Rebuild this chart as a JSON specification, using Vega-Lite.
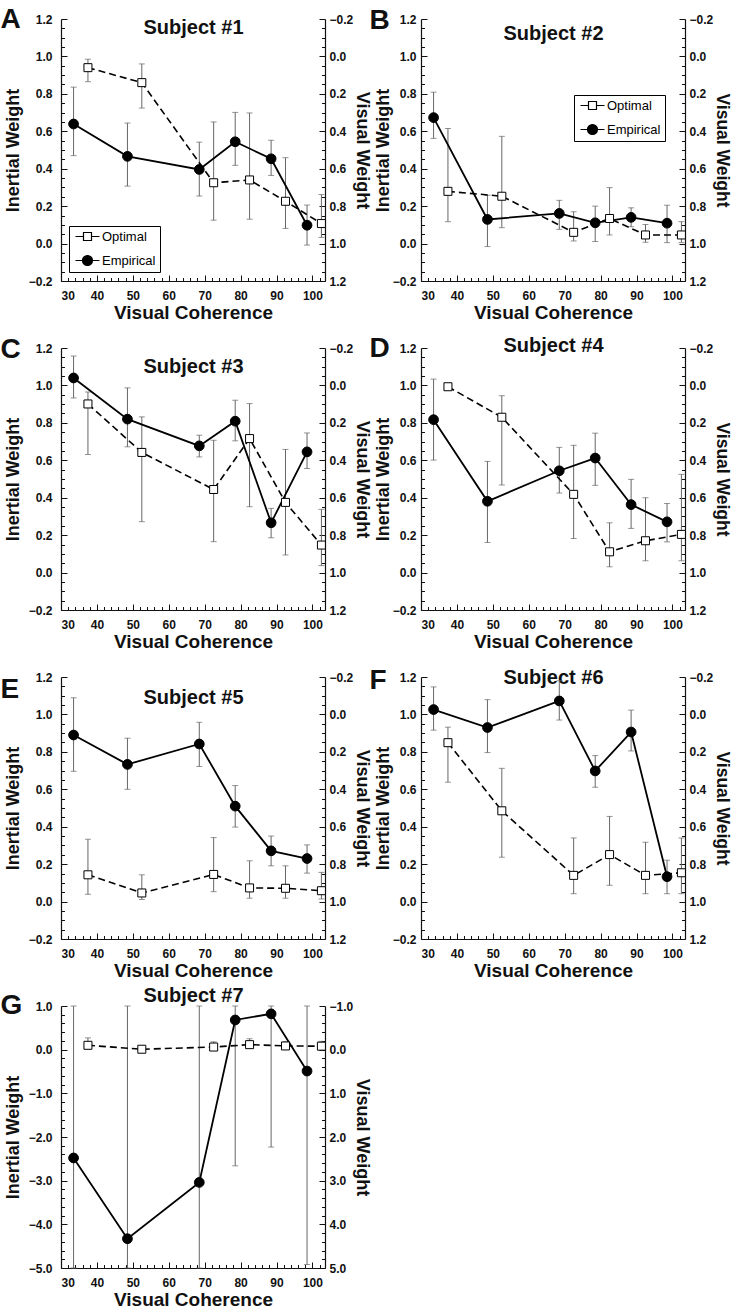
{
"$schema":"https://vega.github.io/schema/vega-lite/v6.json",
"padding":{"left":0,"top":5,"right":0,"bottom":0},
"datasets":{"d":[
{"p":"A","s":"Optimal","x":37.5,"y":0.94,"lo":0.865,"hi":0.985},
{"p":"A","s":"Optimal","x":52.5,"y":0.86,"lo":0.724,"hi":0.96},
{"p":"A","s":"Optimal","x":72.5,"y":0.325,"lo":0.125,"hi":0.65},
{"p":"A","s":"Optimal","x":82.5,"y":0.34,"lo":0.13,"hi":0.698},
{"p":"A","s":"Optimal","x":92.5,"y":0.226,"lo":0.081,"hi":0.459},
{"p":"A","s":"Optimal","x":102.5,"y":0.107,"lo":0.033,"hi":0.262},
{"p":"A","s":"Empirical","x":33.5,"y":0.639,"lo":0.47,"hi":0.836},
{"p":"A","s":"Empirical","x":48.5,"y":0.466,"lo":0.307,"hi":0.644},
{"p":"A","s":"Empirical","x":68.5,"y":0.396,"lo":0.254,"hi":0.542},
{"p":"A","s":"Empirical","x":78.5,"y":0.544,"lo":0.418,"hi":0.701},
{"p":"A","s":"Empirical","x":88.5,"y":0.453,"lo":0.364,"hi":0.552},
{"p":"A","s":"Empirical","x":98.5,"y":0.098,"lo":-0.008,"hi":0.206},
{"p":"B","s":"Optimal","x":37.5,"y":0.279,"lo":0.117,"hi":0.615},
{"p":"B","s":"Optimal","x":52.5,"y":0.253,"lo":0.085,"hi":0.573},
{"p":"B","s":"Optimal","x":72.5,"y":0.06,"lo":0.014,"hi":0.17},
{"p":"B","s":"Optimal","x":82.5,"y":0.134,"lo":0.046,"hi":0.299},
{"p":"B","s":"Optimal","x":92.5,"y":0.046,"lo":0.007,"hi":0.102},
{"p":"B","s":"Optimal","x":102.5,"y":0.046,"lo":0.005,"hi":0.117},
{"p":"B","s":"Empirical","x":33.5,"y":0.673,"lo":0.562,"hi":0.809},
{"p":"B","s":"Empirical","x":48.5,"y":0.129,"lo":-0.016,"hi":0.258},
{"p":"B","s":"Empirical","x":68.5,"y":0.161,"lo":0.076,"hi":0.231},
{"p":"B","s":"Empirical","x":78.5,"y":0.111,"lo":0.011,"hi":0.2},
{"p":"B","s":"Empirical","x":88.5,"y":0.14,"lo":0.09,"hi":0.191},
{"p":"B","s":"Empirical","x":98.5,"y":0.109,"lo":0.005,"hi":0.205},
{"p":"C","s":"Optimal","x":37.5,"y":0.901,"lo":0.631,"hi":0.965},
{"p":"C","s":"Optimal","x":52.5,"y":0.642,"lo":0.272,"hi":0.832},
{"p":"C","s":"Optimal","x":72.5,"y":0.444,"lo":0.165,"hi":0.707},
{"p":"C","s":"Optimal","x":82.5,"y":0.716,"lo":0.352,"hi":0.903},
{"p":"C","s":"Optimal","x":92.5,"y":0.375,"lo":0.094,"hi":0.658},
{"p":"C","s":"Optimal","x":102.5,"y":0.147,"lo":0.037,"hi":0.338},
{"p":"C","s":"Empirical","x":33.5,"y":1.04,"lo":0.933,"hi":1.157},
{"p":"C","s":"Empirical","x":48.5,"y":0.82,"lo":0.672,"hi":0.987},
{"p":"C","s":"Empirical","x":68.5,"y":0.677,"lo":0.618,"hi":0.734},
{"p":"C","s":"Empirical","x":78.5,"y":0.809,"lo":0.704,"hi":0.921},
{"p":"C","s":"Empirical","x":88.5,"y":0.266,"lo":0.186,"hi":0.343},
{"p":"C","s":"Empirical","x":98.5,"y":0.645,"lo":0.556,"hi":0.746},
{"p":"D","s":"Optimal","x":37.5,"y":0.993,"lo":0.98,"hi":1.005},
{"p":"D","s":"Optimal","x":52.5,"y":0.83,"lo":0.468,"hi":0.945},
{"p":"D","s":"Optimal","x":72.5,"y":0.418,"lo":0.182,"hi":0.68},
{"p":"D","s":"Optimal","x":82.5,"y":0.111,"lo":0.031,"hi":0.266},
{"p":"D","s":"Optimal","x":92.5,"y":0.17,"lo":0.063,"hi":0.4},
{"p":"D","s":"Optimal","x":102.5,"y":0.204,"lo":0.063,"hi":0.525},
{"p":"D","s":"Empirical","x":33.5,"y":0.817,"lo":0.601,"hi":1.034},
{"p":"D","s":"Empirical","x":48.5,"y":0.381,"lo":0.161,"hi":0.594},
{"p":"D","s":"Empirical","x":68.5,"y":0.544,"lo":0.425,"hi":0.669},
{"p":"D","s":"Empirical","x":78.5,"y":0.612,"lo":0.466,"hi":0.745},
{"p":"D","s":"Empirical","x":88.5,"y":0.363,"lo":0.236,"hi":0.498},
{"p":"D","s":"Empirical","x":98.5,"y":0.271,"lo":0.164,"hi":0.369},
{"p":"E","s":"Optimal","x":37.5,"y":0.143,"lo":0.039,"hi":0.333},
{"p":"E","s":"Optimal","x":52.5,"y":0.046,"lo":0.011,"hi":0.143},
{"p":"E","s":"Optimal","x":72.5,"y":0.145,"lo":0.053,"hi":0.342},
{"p":"E","s":"Optimal","x":82.5,"y":0.073,"lo":0.018,"hi":0.218},
{"p":"E","s":"Optimal","x":92.5,"y":0.071,"lo":0.018,"hi":0.191},
{"p":"E","s":"Optimal","x":102.5,"y":0.058,"lo":0.014,"hi":0.156},
{"p":"E","s":"Empirical","x":33.5,"y":0.89,"lo":0.696,"hi":1.089},
{"p":"E","s":"Empirical","x":48.5,"y":0.733,"lo":0.6,"hi":0.873},
{"p":"E","s":"Empirical","x":68.5,"y":0.842,"lo":0.722,"hi":0.958},
{"p":"E","s":"Empirical","x":78.5,"y":0.51,"lo":0.398,"hi":0.62},
{"p":"E","s":"Empirical","x":88.5,"y":0.271,"lo":0.191,"hi":0.35},
{"p":"E","s":"Empirical","x":98.5,"y":0.23,"lo":0.152,"hi":0.303},
{"p":"F","s":"Optimal","x":37.5,"y":0.849,"lo":0.638,"hi":0.932},
{"p":"F","s":"Optimal","x":52.5,"y":0.485,"lo":0.237,"hi":0.712},
{"p":"F","s":"Optimal","x":72.5,"y":0.14,"lo":0.042,"hi":0.34},
{"p":"F","s":"Optimal","x":82.5,"y":0.251,"lo":0.087,"hi":0.455},
{"p":"F","s":"Optimal","x":92.5,"y":0.14,"lo":0.042,"hi":0.317},
{"p":"F","s":"Optimal","x":102.5,"y":0.154,"lo":0.042,"hi":0.34},
{"p":"F","s":"Empirical","x":33.5,"y":1.026,"lo":0.916,"hi":1.147},
{"p":"F","s":"Empirical","x":48.5,"y":0.93,"lo":0.796,"hi":1.079},
{"p":"F","s":"Empirical","x":68.5,"y":1.072,"lo":0.97,"hi":1.18},
{"p":"F","s":"Empirical","x":78.5,"y":0.698,"lo":0.611,"hi":0.78},
{"p":"F","s":"Empirical","x":88.5,"y":0.906,"lo":0.805,"hi":1.023},
{"p":"F","s":"Empirical","x":98.5,"y":0.133,"lo":0.042,"hi":0.221},
{"p":"G","s":"Optimal","x":37.5,"y":0.1,"lo":0.05,"hi":0.27},
{"p":"G","s":"Optimal","x":52.5,"y":0.01,"lo":-0.02,"hi":0.04},
{"p":"G","s":"Optimal","x":72.5,"y":0.06,"lo":0.02,"hi":0.18},
{"p":"G","s":"Optimal","x":82.5,"y":0.115,"lo":0.06,"hi":0.25},
{"p":"G","s":"Optimal","x":92.5,"y":0.085,"lo":0.03,"hi":0.18},
{"p":"G","s":"Optimal","x":102.5,"y":0.08,"lo":0.03,"hi":0.19},
{"p":"G","s":"Empirical","x":33.5,"y":-2.48,"lo":-5,"hi":1},
{"p":"G","s":"Empirical","x":48.5,"y":-4.33,"lo":-5,"hi":1},
{"p":"G","s":"Empirical","x":68.5,"y":-3.04,"lo":-5,"hi":1},
{"p":"G","s":"Empirical","x":78.5,"y":0.68,"lo":-2.66,"hi":1},
{"p":"G","s":"Empirical","x":88.5,"y":0.82,"lo":-2.23,"hi":1},
{"p":"G","s":"Empirical","x":98.5,"y":-0.49,"lo":-4.92,"hi":1}
]},
"columns":2,
"bounds":"flush",
"spacing":{"row":67,"column":96},
"resolve":{"scale":{"x":"independent","y":"independent"},"legend":{"shape":"independent","fill":"independent","stroke":"independent"}},
"concat":[
{"width":264,"height":262,"data":{"name":"d"},"transform":[{"filter":"datum.p==='A'"}],
"layer":[
{"mark":{"type":"errorbar","ticks":{"size":6,"color":"#666"},"rule":{"color":"#666","strokeWidth":1}},
"encoding":{"x":{"field":"x","type":"quantitative","scale":{"domain":[30,103.5],"nice":false,"zero":false},"axis":null},"y":{"field":"lo","type":"quantitative","scale":{"domain":[-0.2,1.2],"nice":false,"zero":false},"axis":null},"y2":{"field":"hi"}}},
{"transform":[{"filter":"datum.s==='Optimal'"}],"mark":{"type":"line","color":"black","strokeWidth":1.6,"strokeDash":[7,4]},
"encoding":{"x":{"field":"x","type":"quantitative","scale":{"domain":[30,103.5],"nice":false,"zero":false},"axis":{"orient":"bottom","values":[30,40,50,60,70,80,90,100],"format":"d","title":"Visual Coherence","tickSize":-6,"labelPadding":15,"titlePadding":2}},"y":{"field":"y","type":"quantitative","scale":{"domain":[-0.2,1.2],"nice":false,"zero":false},"axis":{"orient":"left","values":[-0.2,0,0.2,0.4,0.6,0.8,1,1.2],"format":".1f","title":"Inertial Weight","tickSize":-6,"labelPadding":15,"titlePadding":6,"titleFontSize":18}}}},
{"transform":[{"filter":"datum.s==='Empirical'"}],"mark":{"type":"line","color":"black","strokeWidth":1.8},
"encoding":{"x":{"field":"x","type":"quantitative","scale":{"domain":[30,103.5],"nice":false,"zero":false},"axis":{"orient":"bottom","values":[32,34,36,38,42,44,46,48,52,54,56,58,62,64,66,68,72,74,76,78,82,84,86,88,92,94,96,98,102],"labels":false,"title":null,"domain":false,"tickSize":-3.5}},"y":{"field":"y","type":"quantitative","scale":{"domain":[-0.2,1.2],"nice":false,"zero":false},"axis":{"orient":"left","values":[-0.15,-0.1,-0.05,0.05,0.1,0.15,0.25,0.3,0.35,0.45,0.5,0.55,0.65,0.7,0.75,0.85,0.9,0.95,1.05,1.1,1.15],"labels":false,"title":null,"domain":false,"tickSize":-3.5}}}},
{"transform":[{"filter":"datum.s==='Optimal'"}],"mark":{"type":"point","shape":"square","size":64,"filled":true,"color":"white","opacity":1,"stroke":"black","strokeWidth":1},
"encoding":{"x":{"field":"x","type":"quantitative","scale":{"domain":[30,103.5],"nice":false,"zero":false},"axis":{"orient":"top","domain":false,"ticks":false,"labels":false,"title":"Subject #1","titleY":14,"titleBaseline":"alphabetic","titleFontSize":20}},"y":{"field":"y","type":"quantitative","scale":{"domain":[-0.2,1.2],"nice":false,"zero":false},"axis":{"orient":"right","values":[-0.2,0,0.2,0.4,0.6,0.8,1,1.2],"labelExpr":"format(1 - datum.value, '.1f')","title":"Visual Weight","tickSize":-6,"labelPadding":10,"titlePadding":0,"titleFontSize":18}}}},
{"transform":[{"filter":"datum.s==='Empirical'"}],"mark":{"type":"point","shape":"circle","size":95,"filled":true,"color":"black","opacity":1,"stroke":"black","strokeWidth":1},
"encoding":{"x":{"field":"x","type":"quantitative","scale":{"domain":[30,103.5],"nice":false,"zero":false},"axis":{"orient":"top","domain":false,"ticks":false,"labels":false,"title":"A","titleX":-61,"titleY":8,"titleAlign":"left","titleAnchor":"start","titleBaseline":"alphabetic","titleFontSize":28}},"y":{"field":"y","type":"quantitative","scale":{"domain":[-0.2,1.2],"nice":false,"zero":false},"axis":{"orient":"right","values":[-0.15,-0.1,-0.05,0.05,0.1,0.15,0.25,0.3,0.35,0.45,0.5,0.55,0.65,0.7,0.75,0.85,0.9,0.95,1.05,1.1,1.15],"labels":false,"title":null,"domain":false,"tickSize":-3.5}}}},
{"mark":{"type":"point","size":100,"filled":true,"opacity":0,"strokeWidth":1.2},
"encoding":{"x":{"field":"x","type":"quantitative","scale":{"domain":[30,103.5],"nice":false,"zero":false},"axis":null},"y":{"field":"y","type":"quantitative","scale":{"domain":[-0.2,1.2],"nice":false,"zero":false},"axis":null},
"shape":{"field":"s","type":"nominal","scale":{"domain":["Optimal","Empirical"],"range":["M-2.4,0H-0.8M0.8,0H2.4M-0.8,-0.8H0.8V0.8H-0.8Z","M-2.4,0H2.4M1,0A1,1,0,1,1,-1,0A1,1,0,1,1,1,0Z"]},"legend":{"orient":"none","legendX":8,"legendY":207,"title":null,"fillColor":"white","strokeColor":"black","padding":4,"symbolOffset":8,"labelOffset":8,"rowPadding":9,"labelFont":"Liberation Sans","labelFontSize":13,"labelFontWeight":"normal","labelColor":"black","symbolSize":100,"symbolStrokeWidth":1.2,"symbolOpacity":1}},
"fill":{"field":"s","type":"nominal","scale":{"domain":["Optimal","Empirical"],"range":["white","black"]},"legend":{"orient":"none","legendX":8,"legendY":207,"title":null,"fillColor":"white","strokeColor":"black","padding":4,"symbolOffset":8,"labelOffset":8,"rowPadding":9,"labelFont":"Liberation Sans","labelFontSize":13,"labelFontWeight":"normal","labelColor":"black","symbolSize":100,"symbolStrokeWidth":1.2,"symbolOpacity":1}},
"stroke":{"field":"s","type":"nominal","scale":{"domain":["Optimal","Empirical"],"range":["black","black"]},"legend":{"orient":"none","legendX":8,"legendY":207,"title":null,"fillColor":"white","strokeColor":"black","padding":4,"symbolOffset":8,"labelOffset":8,"rowPadding":9,"labelFont":"Liberation Sans","labelFontSize":13,"labelFontWeight":"normal","labelColor":"black","symbolSize":100,"symbolStrokeWidth":1.2,"symbolOpacity":1}}}}
],
"resolve":{"axis":{"x":"independent","y":"independent"}}},
{"width":264,"height":262,"data":{"name":"d"},"transform":[{"filter":"datum.p==='B'"}],
"layer":[
{"mark":{"type":"errorbar","ticks":{"size":6,"color":"#666"},"rule":{"color":"#666","strokeWidth":1}},
"encoding":{"x":{"field":"x","type":"quantitative","scale":{"domain":[30,103.5],"nice":false,"zero":false},"axis":null},"y":{"field":"lo","type":"quantitative","scale":{"domain":[-0.2,1.2],"nice":false,"zero":false},"axis":null},"y2":{"field":"hi"}}},
{"transform":[{"filter":"datum.s==='Optimal'"}],"mark":{"type":"line","color":"black","strokeWidth":1.6,"strokeDash":[7,4]},
"encoding":{"x":{"field":"x","type":"quantitative","scale":{"domain":[30,103.5],"nice":false,"zero":false},"axis":{"orient":"bottom","values":[30,40,50,60,70,80,90,100],"format":"d","title":"Visual Coherence","tickSize":-6,"labelPadding":15,"titlePadding":2}},"y":{"field":"y","type":"quantitative","scale":{"domain":[-0.2,1.2],"nice":false,"zero":false},"axis":{"orient":"left","values":[-0.2,0,0.2,0.4,0.6,0.8,1,1.2],"format":".1f","title":"Inertial Weight","tickSize":-6,"labelPadding":11,"titlePadding":0,"titleFontSize":18}}}},
{"transform":[{"filter":"datum.s==='Empirical'"}],"mark":{"type":"line","color":"black","strokeWidth":1.8},
"encoding":{"x":{"field":"x","type":"quantitative","scale":{"domain":[30,103.5],"nice":false,"zero":false},"axis":{"orient":"bottom","values":[32,34,36,38,42,44,46,48,52,54,56,58,62,64,66,68,72,74,76,78,82,84,86,88,92,94,96,98,102],"labels":false,"title":null,"domain":false,"tickSize":-3.5}},"y":{"field":"y","type":"quantitative","scale":{"domain":[-0.2,1.2],"nice":false,"zero":false},"axis":{"orient":"left","values":[-0.15,-0.1,-0.05,0.05,0.1,0.15,0.25,0.3,0.35,0.45,0.5,0.55,0.65,0.7,0.75,0.85,0.9,0.95,1.05,1.1,1.15],"labels":false,"title":null,"domain":false,"tickSize":-3.5}}}},
{"transform":[{"filter":"datum.s==='Optimal'"}],"mark":{"type":"point","shape":"square","size":64,"filled":true,"color":"white","opacity":1,"stroke":"black","strokeWidth":1},
"encoding":{"x":{"field":"x","type":"quantitative","scale":{"domain":[30,103.5],"nice":false,"zero":false},"axis":{"orient":"top","domain":false,"ticks":false,"labels":false,"title":"Subject #2","titleY":20,"titleBaseline":"alphabetic","titleFontSize":20}},"y":{"field":"y","type":"quantitative","scale":{"domain":[-0.2,1.2],"nice":false,"zero":false},"axis":{"orient":"right","values":[-0.2,0,0.2,0.4,0.6,0.8,1,1.2],"labelExpr":"format(1 - datum.value, '.1f')","title":"Visual Weight","tickSize":-6,"labelPadding":10,"titlePadding":0,"titleFontSize":17.5}}}},
{"transform":[{"filter":"datum.s==='Empirical'"}],"mark":{"type":"point","shape":"circle","size":95,"filled":true,"color":"black","opacity":1,"stroke":"black","strokeWidth":1},
"encoding":{"x":{"field":"x","type":"quantitative","scale":{"domain":[30,103.5],"nice":false,"zero":false},"axis":{"orient":"top","domain":false,"ticks":false,"labels":false,"title":"B","titleX":-52,"titleY":9,"titleAlign":"left","titleAnchor":"start","titleBaseline":"alphabetic","titleFontSize":28}},"y":{"field":"y","type":"quantitative","scale":{"domain":[-0.2,1.2],"nice":false,"zero":false},"axis":{"orient":"right","values":[-0.15,-0.1,-0.05,0.05,0.1,0.15,0.25,0.3,0.35,0.45,0.5,0.55,0.65,0.7,0.75,0.85,0.9,0.95,1.05,1.1,1.15],"labels":false,"title":null,"domain":false,"tickSize":-3.5}}}},
{"mark":{"type":"point","size":100,"filled":true,"opacity":0,"strokeWidth":1.2},
"encoding":{"x":{"field":"x","type":"quantitative","scale":{"domain":[30,103.5],"nice":false,"zero":false},"axis":null},"y":{"field":"y","type":"quantitative","scale":{"domain":[-0.2,1.2],"nice":false,"zero":false},"axis":null},
"shape":{"field":"s","type":"nominal","scale":{"domain":["Optimal","Empirical"],"range":["M-2.4,0H-0.8M0.8,0H2.4M-0.8,-0.8H0.8V0.8H-0.8Z","M-2.4,0H2.4M1,0A1,1,0,1,1,-1,0A1,1,0,1,1,1,0Z"]},"legend":{"orient":"none","legendX":153,"legendY":76,"title":null,"fillColor":"white","strokeColor":"black","padding":4,"symbolOffset":8,"labelOffset":8,"rowPadding":9,"labelFont":"Liberation Sans","labelFontSize":13,"labelFontWeight":"normal","labelColor":"black","symbolSize":100,"symbolStrokeWidth":1.2,"symbolOpacity":1}},
"fill":{"field":"s","type":"nominal","scale":{"domain":["Optimal","Empirical"],"range":["white","black"]},"legend":{"orient":"none","legendX":153,"legendY":76,"title":null,"fillColor":"white","strokeColor":"black","padding":4,"symbolOffset":8,"labelOffset":8,"rowPadding":9,"labelFont":"Liberation Sans","labelFontSize":13,"labelFontWeight":"normal","labelColor":"black","symbolSize":100,"symbolStrokeWidth":1.2,"symbolOpacity":1}},
"stroke":{"field":"s","type":"nominal","scale":{"domain":["Optimal","Empirical"],"range":["black","black"]},"legend":{"orient":"none","legendX":153,"legendY":76,"title":null,"fillColor":"white","strokeColor":"black","padding":4,"symbolOffset":8,"labelOffset":8,"rowPadding":9,"labelFont":"Liberation Sans","labelFontSize":13,"labelFontWeight":"normal","labelColor":"black","symbolSize":100,"symbolStrokeWidth":1.2,"symbolOpacity":1}}}}
],
"resolve":{"axis":{"x":"independent","y":"independent"}}},
{"width":264,"height":262,"data":{"name":"d"},"transform":[{"filter":"datum.p==='C'"}],
"layer":[
{"mark":{"type":"errorbar","ticks":{"size":6,"color":"#666"},"rule":{"color":"#666","strokeWidth":1}},
"encoding":{"x":{"field":"x","type":"quantitative","scale":{"domain":[30,103.5],"nice":false,"zero":false},"axis":null},"y":{"field":"lo","type":"quantitative","scale":{"domain":[-0.2,1.2],"nice":false,"zero":false},"axis":null},"y2":{"field":"hi"}}},
{"transform":[{"filter":"datum.s==='Optimal'"}],"mark":{"type":"line","color":"black","strokeWidth":1.6,"strokeDash":[7,4]},
"encoding":{"x":{"field":"x","type":"quantitative","scale":{"domain":[30,103.5],"nice":false,"zero":false},"axis":{"orient":"bottom","values":[30,40,50,60,70,80,90,100],"format":"d","title":"Visual Coherence","tickSize":-6,"labelPadding":15,"titlePadding":2}},"y":{"field":"y","type":"quantitative","scale":{"domain":[-0.2,1.2],"nice":false,"zero":false},"axis":{"orient":"left","values":[-0.2,0,0.2,0.4,0.6,0.8,1,1.2],"format":".1f","title":"Inertial Weight","tickSize":-6,"labelPadding":15,"titlePadding":6,"titleFontSize":18}}}},
{"transform":[{"filter":"datum.s==='Empirical'"}],"mark":{"type":"line","color":"black","strokeWidth":1.8},
"encoding":{"x":{"field":"x","type":"quantitative","scale":{"domain":[30,103.5],"nice":false,"zero":false},"axis":{"orient":"bottom","values":[32,34,36,38,42,44,46,48,52,54,56,58,62,64,66,68,72,74,76,78,82,84,86,88,92,94,96,98,102],"labels":false,"title":null,"domain":false,"tickSize":-3.5}},"y":{"field":"y","type":"quantitative","scale":{"domain":[-0.2,1.2],"nice":false,"zero":false},"axis":{"orient":"left","values":[-0.15,-0.1,-0.05,0.05,0.1,0.15,0.25,0.3,0.35,0.45,0.5,0.55,0.65,0.7,0.75,0.85,0.9,0.95,1.05,1.1,1.15],"labels":false,"title":null,"domain":false,"tickSize":-3.5}}}},
{"transform":[{"filter":"datum.s==='Optimal'"}],"mark":{"type":"point","shape":"square","size":64,"filled":true,"color":"white","opacity":1,"stroke":"black","strokeWidth":1},
"encoding":{"x":{"field":"x","type":"quantitative","scale":{"domain":[30,103.5],"nice":false,"zero":false},"axis":{"orient":"top","domain":false,"ticks":false,"labels":false,"title":"Subject #3","titleY":24,"titleBaseline":"alphabetic","titleFontSize":20}},"y":{"field":"y","type":"quantitative","scale":{"domain":[-0.2,1.2],"nice":false,"zero":false},"axis":{"orient":"right","values":[-0.2,0,0.2,0.4,0.6,0.8,1,1.2],"labelExpr":"format(1 - datum.value, '.1f')","title":"Visual Weight","tickSize":-6,"labelPadding":10,"titlePadding":0,"titleFontSize":18}}}},
{"transform":[{"filter":"datum.s==='Empirical'"}],"mark":{"type":"point","shape":"circle","size":95,"filled":true,"color":"black","opacity":1,"stroke":"black","strokeWidth":1},
"encoding":{"x":{"field":"x","type":"quantitative","scale":{"domain":[30,103.5],"nice":false,"zero":false},"axis":{"orient":"top","domain":false,"ticks":false,"labels":false,"title":"C","titleX":-61,"titleY":9,"titleAlign":"left","titleAnchor":"start","titleBaseline":"alphabetic","titleFontSize":28}},"y":{"field":"y","type":"quantitative","scale":{"domain":[-0.2,1.2],"nice":false,"zero":false},"axis":{"orient":"right","values":[-0.15,-0.1,-0.05,0.05,0.1,0.15,0.25,0.3,0.35,0.45,0.5,0.55,0.65,0.7,0.75,0.85,0.9,0.95,1.05,1.1,1.15],"labels":false,"title":null,"domain":false,"tickSize":-3.5}}}}
],
"resolve":{"axis":{"x":"independent","y":"independent"}}},
{"width":264,"height":262,"data":{"name":"d"},"transform":[{"filter":"datum.p==='D'"}],
"layer":[
{"mark":{"type":"errorbar","ticks":{"size":6,"color":"#666"},"rule":{"color":"#666","strokeWidth":1}},
"encoding":{"x":{"field":"x","type":"quantitative","scale":{"domain":[30,103.5],"nice":false,"zero":false},"axis":null},"y":{"field":"lo","type":"quantitative","scale":{"domain":[-0.2,1.2],"nice":false,"zero":false},"axis":null},"y2":{"field":"hi"}}},
{"transform":[{"filter":"datum.s==='Optimal'"}],"mark":{"type":"line","color":"black","strokeWidth":1.6,"strokeDash":[7,4]},
"encoding":{"x":{"field":"x","type":"quantitative","scale":{"domain":[30,103.5],"nice":false,"zero":false},"axis":{"orient":"bottom","values":[30,40,50,60,70,80,90,100],"format":"d","title":"Visual Coherence","tickSize":-6,"labelPadding":15,"titlePadding":2}},"y":{"field":"y","type":"quantitative","scale":{"domain":[-0.2,1.2],"nice":false,"zero":false},"axis":{"orient":"left","values":[-0.2,0,0.2,0.4,0.6,0.8,1,1.2],"format":".1f","title":"Inertial Weight","tickSize":-6,"labelPadding":11,"titlePadding":0,"titleFontSize":18}}}},
{"transform":[{"filter":"datum.s==='Empirical'"}],"mark":{"type":"line","color":"black","strokeWidth":1.8},
"encoding":{"x":{"field":"x","type":"quantitative","scale":{"domain":[30,103.5],"nice":false,"zero":false},"axis":{"orient":"bottom","values":[32,34,36,38,42,44,46,48,52,54,56,58,62,64,66,68,72,74,76,78,82,84,86,88,92,94,96,98,102],"labels":false,"title":null,"domain":false,"tickSize":-3.5}},"y":{"field":"y","type":"quantitative","scale":{"domain":[-0.2,1.2],"nice":false,"zero":false},"axis":{"orient":"left","values":[-0.15,-0.1,-0.05,0.05,0.1,0.15,0.25,0.3,0.35,0.45,0.5,0.55,0.65,0.7,0.75,0.85,0.9,0.95,1.05,1.1,1.15],"labels":false,"title":null,"domain":false,"tickSize":-3.5}}}},
{"transform":[{"filter":"datum.s==='Optimal'"}],"mark":{"type":"point","shape":"square","size":64,"filled":true,"color":"white","opacity":1,"stroke":"black","strokeWidth":1},
"encoding":{"x":{"field":"x","type":"quantitative","scale":{"domain":[30,103.5],"nice":false,"zero":false},"axis":{"orient":"top","domain":false,"ticks":false,"labels":false,"title":"Subject #4","titleY":3,"titleBaseline":"alphabetic","titleFontSize":20}},"y":{"field":"y","type":"quantitative","scale":{"domain":[-0.2,1.2],"nice":false,"zero":false},"axis":{"orient":"right","values":[-0.2,0,0.2,0.4,0.6,0.8,1,1.2],"labelExpr":"format(1 - datum.value, '.1f')","title":"Visual Weight","tickSize":-6,"labelPadding":10,"titlePadding":0,"titleFontSize":17.5}}}},
{"transform":[{"filter":"datum.s==='Empirical'"}],"mark":{"type":"point","shape":"circle","size":95,"filled":true,"color":"black","opacity":1,"stroke":"black","strokeWidth":1},
"encoding":{"x":{"field":"x","type":"quantitative","scale":{"domain":[30,103.5],"nice":false,"zero":false},"axis":{"orient":"top","domain":false,"ticks":false,"labels":false,"title":"D","titleX":-52,"titleY":8,"titleAlign":"left","titleAnchor":"start","titleBaseline":"alphabetic","titleFontSize":28}},"y":{"field":"y","type":"quantitative","scale":{"domain":[-0.2,1.2],"nice":false,"zero":false},"axis":{"orient":"right","values":[-0.15,-0.1,-0.05,0.05,0.1,0.15,0.25,0.3,0.35,0.45,0.5,0.55,0.65,0.7,0.75,0.85,0.9,0.95,1.05,1.1,1.15],"labels":false,"title":null,"domain":false,"tickSize":-3.5}}}}
],
"resolve":{"axis":{"x":"independent","y":"independent"}}},
{"width":264,"height":262,"data":{"name":"d"},"transform":[{"filter":"datum.p==='E'"}],
"layer":[
{"mark":{"type":"errorbar","ticks":{"size":6,"color":"#666"},"rule":{"color":"#666","strokeWidth":1}},
"encoding":{"x":{"field":"x","type":"quantitative","scale":{"domain":[30,103.5],"nice":false,"zero":false},"axis":null},"y":{"field":"lo","type":"quantitative","scale":{"domain":[-0.2,1.2],"nice":false,"zero":false},"axis":null},"y2":{"field":"hi"}}},
{"transform":[{"filter":"datum.s==='Optimal'"}],"mark":{"type":"line","color":"black","strokeWidth":1.6,"strokeDash":[7,4]},
"encoding":{"x":{"field":"x","type":"quantitative","scale":{"domain":[30,103.5],"nice":false,"zero":false},"axis":{"orient":"bottom","values":[30,40,50,60,70,80,90,100],"format":"d","title":"Visual Coherence","tickSize":-6,"labelPadding":15,"titlePadding":2}},"y":{"field":"y","type":"quantitative","scale":{"domain":[-0.2,1.2],"nice":false,"zero":false},"axis":{"orient":"left","values":[-0.2,0,0.2,0.4,0.6,0.8,1,1.2],"format":".1f","title":"Inertial Weight","tickSize":-6,"labelPadding":15,"titlePadding":6,"titleFontSize":18}}}},
{"transform":[{"filter":"datum.s==='Empirical'"}],"mark":{"type":"line","color":"black","strokeWidth":1.8},
"encoding":{"x":{"field":"x","type":"quantitative","scale":{"domain":[30,103.5],"nice":false,"zero":false},"axis":{"orient":"bottom","values":[32,34,36,38,42,44,46,48,52,54,56,58,62,64,66,68,72,74,76,78,82,84,86,88,92,94,96,98,102],"labels":false,"title":null,"domain":false,"tickSize":-3.5}},"y":{"field":"y","type":"quantitative","scale":{"domain":[-0.2,1.2],"nice":false,"zero":false},"axis":{"orient":"left","values":[-0.15,-0.1,-0.05,0.05,0.1,0.15,0.25,0.3,0.35,0.45,0.5,0.55,0.65,0.7,0.75,0.85,0.9,0.95,1.05,1.1,1.15],"labels":false,"title":null,"domain":false,"tickSize":-3.5}}}},
{"transform":[{"filter":"datum.s==='Optimal'"}],"mark":{"type":"point","shape":"square","size":64,"filled":true,"color":"white","opacity":1,"stroke":"black","strokeWidth":1},
"encoding":{"x":{"field":"x","type":"quantitative","scale":{"domain":[30,103.5],"nice":false,"zero":false},"axis":{"orient":"top","domain":false,"ticks":false,"labels":false,"title":"Subject #5","titleY":26,"titleBaseline":"alphabetic","titleFontSize":20}},"y":{"field":"y","type":"quantitative","scale":{"domain":[-0.2,1.2],"nice":false,"zero":false},"axis":{"orient":"right","values":[-0.2,0,0.2,0.4,0.6,0.8,1,1.2],"labelExpr":"format(1 - datum.value, '.1f')","title":"Visual Weight","tickSize":-6,"labelPadding":10,"titlePadding":0,"titleFontSize":18}}}},
{"transform":[{"filter":"datum.s==='Empirical'"}],"mark":{"type":"point","shape":"circle","size":95,"filled":true,"color":"black","opacity":1,"stroke":"black","strokeWidth":1},
"encoding":{"x":{"field":"x","type":"quantitative","scale":{"domain":[30,103.5],"nice":false,"zero":false},"axis":{"orient":"top","domain":false,"ticks":false,"labels":false,"title":"E","titleX":-61,"titleY":20,"titleAlign":"left","titleAnchor":"start","titleBaseline":"alphabetic","titleFontSize":28}},"y":{"field":"y","type":"quantitative","scale":{"domain":[-0.2,1.2],"nice":false,"zero":false},"axis":{"orient":"right","values":[-0.15,-0.1,-0.05,0.05,0.1,0.15,0.25,0.3,0.35,0.45,0.5,0.55,0.65,0.7,0.75,0.85,0.9,0.95,1.05,1.1,1.15],"labels":false,"title":null,"domain":false,"tickSize":-3.5}}}}
],
"resolve":{"axis":{"x":"independent","y":"independent"}}},
{"width":264,"height":262,"data":{"name":"d"},"transform":[{"filter":"datum.p==='F'"}],
"layer":[
{"mark":{"type":"errorbar","ticks":{"size":6,"color":"#666"},"rule":{"color":"#666","strokeWidth":1}},
"encoding":{"x":{"field":"x","type":"quantitative","scale":{"domain":[30,103.5],"nice":false,"zero":false},"axis":null},"y":{"field":"lo","type":"quantitative","scale":{"domain":[-0.2,1.2],"nice":false,"zero":false},"axis":null},"y2":{"field":"hi"}}},
{"transform":[{"filter":"datum.s==='Optimal'"}],"mark":{"type":"line","color":"black","strokeWidth":1.6,"strokeDash":[7,4]},
"encoding":{"x":{"field":"x","type":"quantitative","scale":{"domain":[30,103.5],"nice":false,"zero":false},"axis":{"orient":"bottom","values":[30,40,50,60,70,80,90,100],"format":"d","title":"Visual Coherence","tickSize":-6,"labelPadding":15,"titlePadding":2}},"y":{"field":"y","type":"quantitative","scale":{"domain":[-0.2,1.2],"nice":false,"zero":false},"axis":{"orient":"left","values":[-0.2,0,0.2,0.4,0.6,0.8,1,1.2],"format":".1f","title":"Inertial Weight","tickSize":-6,"labelPadding":11,"titlePadding":0,"titleFontSize":18}}}},
{"transform":[{"filter":"datum.s==='Empirical'"}],"mark":{"type":"line","color":"black","strokeWidth":1.8},
"encoding":{"x":{"field":"x","type":"quantitative","scale":{"domain":[30,103.5],"nice":false,"zero":false},"axis":{"orient":"bottom","values":[32,34,36,38,42,44,46,48,52,54,56,58,62,64,66,68,72,74,76,78,82,84,86,88,92,94,96,98,102],"labels":false,"title":null,"domain":false,"tickSize":-3.5}},"y":{"field":"y","type":"quantitative","scale":{"domain":[-0.2,1.2],"nice":false,"zero":false},"axis":{"orient":"left","values":[-0.15,-0.1,-0.05,0.05,0.1,0.15,0.25,0.3,0.35,0.45,0.5,0.55,0.65,0.7,0.75,0.85,0.9,0.95,1.05,1.1,1.15],"labels":false,"title":null,"domain":false,"tickSize":-3.5}}}},
{"transform":[{"filter":"datum.s==='Optimal'"}],"mark":{"type":"point","shape":"square","size":64,"filled":true,"color":"white","opacity":1,"stroke":"black","strokeWidth":1},
"encoding":{"x":{"field":"x","type":"quantitative","scale":{"domain":[30,103.5],"nice":false,"zero":false},"axis":{"orient":"top","domain":false,"ticks":false,"labels":false,"title":"Subject #6","titleY":6,"titleBaseline":"alphabetic","titleFontSize":20}},"y":{"field":"y","type":"quantitative","scale":{"domain":[-0.2,1.2],"nice":false,"zero":false},"axis":{"orient":"right","values":[-0.2,0,0.2,0.4,0.6,0.8,1,1.2],"labelExpr":"format(1 - datum.value, '.1f')","title":"Visual Weight","tickSize":-6,"labelPadding":10,"titlePadding":0,"titleFontSize":17.5}}}},
{"transform":[{"filter":"datum.s==='Empirical'"}],"mark":{"type":"point","shape":"circle","size":95,"filled":true,"color":"black","opacity":1,"stroke":"black","strokeWidth":1},
"encoding":{"x":{"field":"x","type":"quantitative","scale":{"domain":[30,103.5],"nice":false,"zero":false},"axis":{"orient":"top","domain":false,"ticks":false,"labels":false,"title":"F","titleX":-52,"titleY":11,"titleAlign":"left","titleAnchor":"start","titleBaseline":"alphabetic","titleFontSize":28}},"y":{"field":"y","type":"quantitative","scale":{"domain":[-0.2,1.2],"nice":false,"zero":false},"axis":{"orient":"right","values":[-0.15,-0.1,-0.05,0.05,0.1,0.15,0.25,0.3,0.35,0.45,0.5,0.55,0.65,0.7,0.75,0.85,0.9,0.95,1.05,1.1,1.15],"labels":false,"title":null,"domain":false,"tickSize":-3.5}}}}
],
"resolve":{"axis":{"x":"independent","y":"independent"}}},
{"width":264,"height":262,"data":{"name":"d"},"transform":[{"filter":"datum.p==='G'"}],
"layer":[
{"mark":{"type":"errorbar","ticks":{"size":6,"color":"#666"},"rule":{"color":"#666","strokeWidth":1}},
"encoding":{"x":{"field":"x","type":"quantitative","scale":{"domain":[30,103.5],"nice":false,"zero":false},"axis":null},"y":{"field":"lo","type":"quantitative","scale":{"domain":[-5,1],"nice":false,"zero":false},"axis":null},"y2":{"field":"hi"}}},
{"transform":[{"filter":"datum.s==='Optimal'"}],"mark":{"type":"line","color":"black","strokeWidth":1.6,"strokeDash":[7,4]},
"encoding":{"x":{"field":"x","type":"quantitative","scale":{"domain":[30,103.5],"nice":false,"zero":false},"axis":{"orient":"bottom","values":[30,40,50,60,70,80,90,100],"format":"d","title":"Visual Coherence","tickSize":-6,"labelPadding":15,"titlePadding":2}},"y":{"field":"y","type":"quantitative","scale":{"domain":[-5,1],"nice":false,"zero":false},"axis":{"orient":"left","values":[-5,-4,-3,-2,-1,0,1],"format":".1f","title":"Inertial Weight","tickSize":-6,"labelPadding":15,"titlePadding":6,"titleFontSize":18}}}},
{"transform":[{"filter":"datum.s==='Empirical'"}],"mark":{"type":"line","color":"black","strokeWidth":1.8},
"encoding":{"x":{"field":"x","type":"quantitative","scale":{"domain":[30,103.5],"nice":false,"zero":false},"axis":{"orient":"bottom","values":[32,34,36,38,42,44,46,48,52,54,56,58,62,64,66,68,72,74,76,78,82,84,86,88,92,94,96,98,102],"labels":false,"title":null,"domain":false,"tickSize":-3.5}},"y":{"field":"y","type":"quantitative","scale":{"domain":[-5,1],"nice":false,"zero":false},"axis":{"orient":"left","values":[-4.8,-4.6,-4.4,-4.2,-3.8,-3.6,-3.4,-3.2,-2.8,-2.6,-2.4,-2.2,-1.8,-1.6,-1.4,-1.2,-0.8,-0.6,-0.4,-0.2,0.2,0.4,0.6,0.8],"labels":false,"title":null,"domain":false,"tickSize":-3.5}}}},
{"transform":[{"filter":"datum.s==='Optimal'"}],"mark":{"type":"point","shape":"square","size":64,"filled":true,"color":"white","opacity":1,"stroke":"black","strokeWidth":1},
"encoding":{"x":{"field":"x","type":"quantitative","scale":{"domain":[30,103.5],"nice":false,"zero":false},"axis":{"orient":"top","domain":false,"ticks":false,"labels":false,"title":"Subject #7","titleY":-5,"titleBaseline":"alphabetic","titleFontSize":20}},"y":{"field":"y","type":"quantitative","scale":{"domain":[-5,1],"nice":false,"zero":false},"axis":{"orient":"right","values":[-5,-4,-3,-2,-1,0,1],"labelExpr":"format(0 - datum.value, '.1f')","title":"Visual Weight","tickSize":-6,"labelPadding":10,"titlePadding":0,"titleFontSize":18}}}},
{"transform":[{"filter":"datum.s==='Empirical'"}],"mark":{"type":"point","shape":"circle","size":95,"filled":true,"color":"black","opacity":1,"stroke":"black","strokeWidth":1},
"encoding":{"x":{"field":"x","type":"quantitative","scale":{"domain":[30,103.5],"nice":false,"zero":false},"axis":{"orient":"top","domain":false,"ticks":false,"labels":false,"title":"G","titleX":-61,"titleY":7,"titleAlign":"left","titleAnchor":"start","titleBaseline":"alphabetic","titleFontSize":28}},"y":{"field":"y","type":"quantitative","scale":{"domain":[-5,1],"nice":false,"zero":false},"axis":{"orient":"right","values":[-4.8,-4.6,-4.4,-4.2,-3.8,-3.6,-3.4,-3.2,-2.8,-2.6,-2.4,-2.2,-1.8,-1.6,-1.4,-1.2,-0.8,-0.6,-0.4,-0.2,0.2,0.4,0.6,0.8],"labels":false,"title":null,"domain":false,"tickSize":-3.5}}}}
],
"resolve":{"axis":{"x":"independent","y":"independent"}}}
],
"config":{"view":{"stroke":null},"font":"Liberation Sans",
"axis":{"grid":false,"domainColor":"#111","tickColor":"#111","labelColor":"#111","titleColor":"#111","labelFont":"Liberation Sans","labelFontSize":12,"labelFontWeight":"bold","titleFont":"Liberation Sans","titleFontSize":19,"titleFontWeight":"bold","domainWidth":1.2,"tickWidth":1}}
}
